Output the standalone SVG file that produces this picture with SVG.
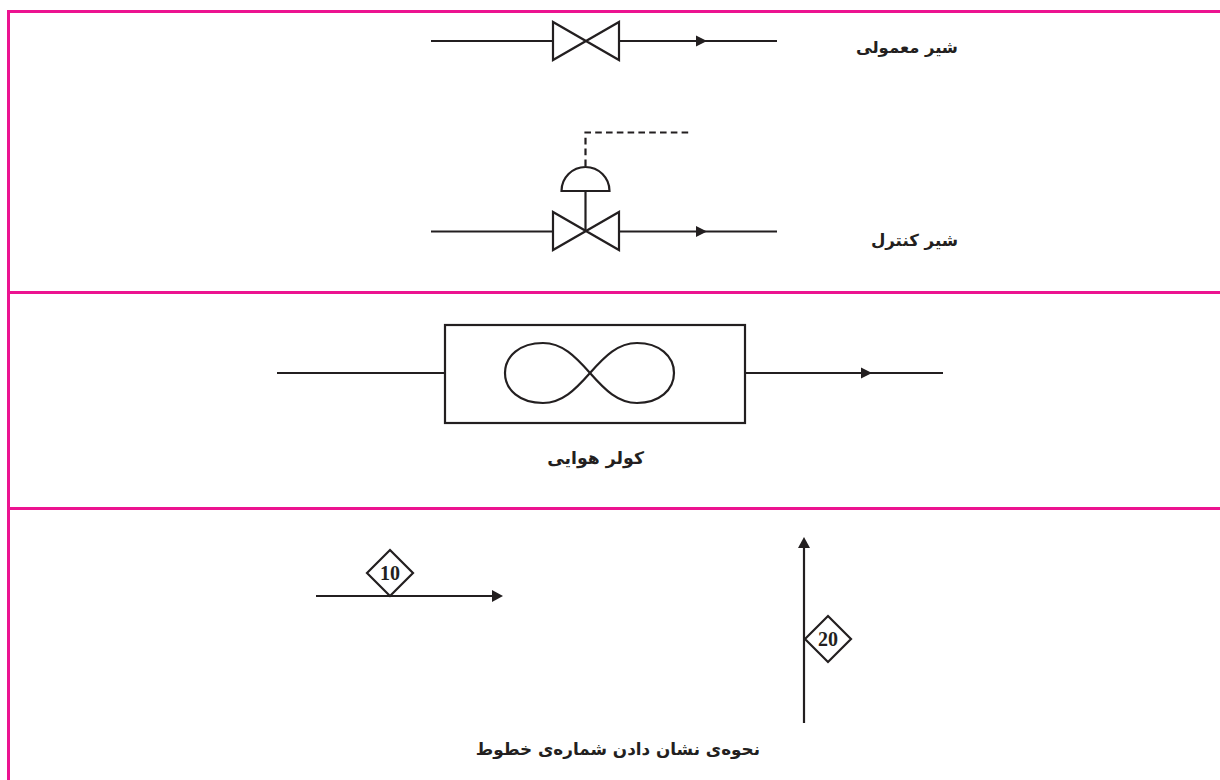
<svg xmlns="http://www.w3.org/2000/svg" width="1220" height="780" viewBox="0 0 1220 780">
<style>
.frame{stroke:#ec1390;stroke-width:3;fill:none}
.ln{stroke:#231f20;stroke-width:2.200;fill:none}
.sh{stroke:#231f20;stroke-width:2.200;fill:#fff}
.ah{fill:#231f20}
.fa{font-family:"DejaVu Sans",sans-serif;font-weight:700;font-size:17px;fill:#231f20;direction:rtl}
.num{font-family:"Liberation Serif",serif;font-weight:700;font-size:20px;fill:#231f20;text-anchor:middle}
</style>
<g id="frame">
<path class="frame" d="M1220 11.500H8.500V780M8.500 292.500H1220M8.500 508.500H1220"/>
</g>
<g id="connectors">
<path class="ln" d="M431 41H553M619 41H777"/>
<path class="ln" d="M431 231.500H553M619 231.500H777"/>
<path class="ln" d="M585.500 231.500V191"/>
<path class="ln" stroke-dasharray="6.600 4.200" d="M585.500 166V132.500H691"/>
<path class="ln" d="M277 373H445M745 373H943"/>
<path class="ln" d="M316 596H494"/>
<path class="ln" d="M804 723V546"/>
<path class="ah" d="M696 35.500L707 41L696 46.500Z"/>
<path class="ah" d="M696 226L707 231.500L696 237Z"/>
<path class="ah" d="M861 367.500L872 373L861 378.500Z"/>
<path class="ah" d="M492 590L503 596L492 602Z"/>
<path class="ah" d="M798 548L804 537L810 548Z"/>
</g>
<g id="valve-normal">
<path class="ln" d="M553 22V60L619 22V60Z"/>
<text class="fa" x="958" y="53" style="font-size:16.400px">شیر معمولی</text>
</g>
<g id="valve-control">
<path class="ln" d="M553 212V250L619 212V250Z"/>
<path class="ln" d="M561.500 191H609.500A24 24 0 0 0 561.500 191Z"/>
<text class="fa" x="958" y="246" style="font-size:16.600px">شیر کنترل</text>
</g>
<g id="air-cooler">
<rect class="ln" x="445" y="325" width="300" height="98"/>
<path class="ln" d="M590 373C575 356 562 343 543 343C520 343 505 356 505 373C505 390 520 403 543 403C562 403 575 390 590 373C605 356 618 343 637 343C659 343 674 356 674 373C674 390 659 403 637 403C618 403 605 390 590 373Z"/>
<text class="fa" x="644" y="464" style="font-size:17.300px">کولر هوایی</text>
</g>
<g id="tag-10">
<path class="sh" d="M390 550L413 573L390 596L367 573Z"/>
<text class="num" x="390" y="580">10</text>
</g>
<g id="tag-20">
<path class="sh" d="M828 616L851 639L828 662L805 639Z"/>
<text class="num" x="828" y="646">20</text>
</g>
<g id="caption">
<text class="fa" x="760" y="755" style="font-size:16.800px">نحوه‌ی نشان دادن شماره‌ی خطوط</text>
</g>
</svg>
